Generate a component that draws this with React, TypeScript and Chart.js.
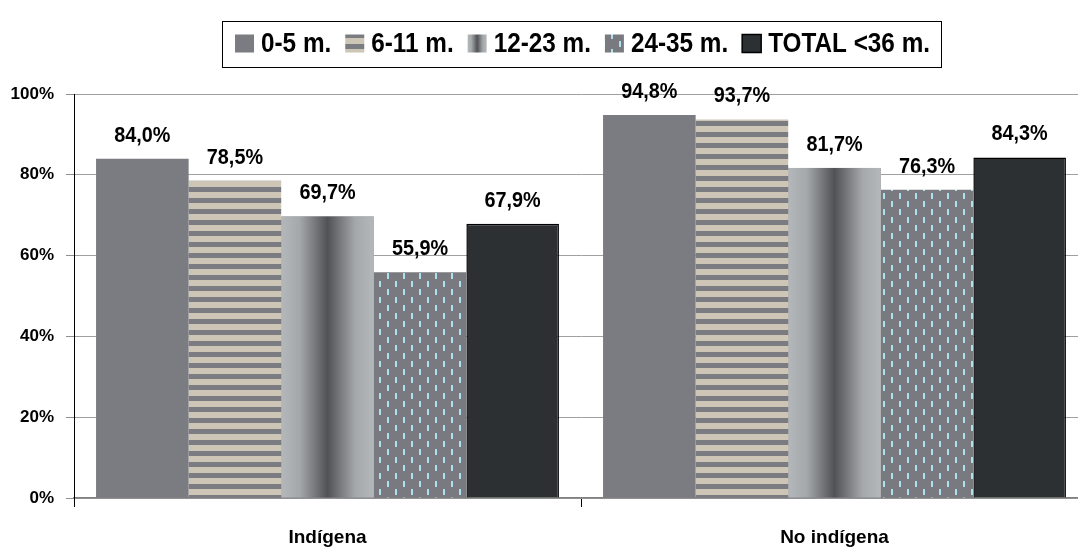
import React, { useEffect, useRef } from "react";
import { Chart, registerables } from "chart.js";

Chart.register(...registerables);

const categories = ["Indígena", "No indígena"];
const seriesLabels = ["0-5 m.", "6-11 m.", "12-23 m.", "24-35 m.", "TOTAL <36 m."];
const s0_5 = [84.0, 94.8];
const s6_11 = [78.5, 93.7];
const s12_23 = [69.7, 81.7];
const s24_35 = [55.9, 76.3];
const sTotal = [67.9, 84.3];
const yTicks = [0, 20, 40, 60, 80, 100];

const FONT = "'Liberation Sans', Arial, sans-serif";
const GRAY = "#7b7c81";
const CANVAS_W = 1100;
const CANVAS_H = 549;
const SX = 0.9;

function makeStripePattern(ctx: CanvasRenderingContext2D) {
  const c = document.createElement("canvas");
  c.width = 8;
  c.height = 11;
  const g = c.getContext("2d")!;
  g.fillStyle = GRAY;
  g.fillRect(0, 0, 8, 11);
  g.fillStyle = "#cdc6b6";
  g.fillRect(0, 5, 8, 6);
  return ctx.createPattern(c, "repeat")!;
}

function makeDashPattern(ctx: CanvasRenderingContext2D) {
  const c = document.createElement("canvas");
  c.width = 16;
  c.height = 16;
  const g = c.getContext("2d")!;
  g.fillStyle = "#797a7f";
  g.fillRect(0, 0, 16, 16);
  g.fillStyle = "#ade0ec";
  g.fillRect(3, 1, 2, 6);
  g.fillRect(11, 9, 2, 6);
  return ctx.createPattern(c, "repeat")!;
}

function makeGradient(ctx: CanvasRenderingContext2D, left: number, right: number) {
  const gr = ctx.createLinearGradient(left, 0, right, 0);
  gr.addColorStop(0, "#b5b8bb");
  gr.addColorStop(0.2, "#a5a8ab");
  gr.addColorStop(0.5, "#505256");
  gr.addColorStop(0.8, "#a5a8ab");
  gr.addColorStop(1, "#b5b8bb");
  return gr;
}

function narrowText(c: CanvasRenderingContext2D, t: string, x: number, y: number) {
  c.save();
  c.translate(x, y);
  c.scale(SX, 1);
  c.fillText(t, 0, 0);
  c.restore();
}

export default function App() {
  const ref = useRef<HTMLCanvasElement>(null);

  useEffect(() => {
    document.body.style.margin = "0";
    const canvas = ref.current!;
    const ctx = canvas.getContext("2d")!;
    const stripe = makeStripePattern(ctx);
    const dash = makeDashPattern(ctx);

    const gradientPlugin = {
      id: "gradientBars",
      afterDatasetDraw(chart: any, args: any) {
        if (args.index !== 2) return;
        const c = chart.ctx;
        c.save();
        args.meta.data.forEach((el: any) => {
          const { x, y, base, width } = el.getProps(["x", "y", "base", "width"], true);
          const l = x - width / 2;
          c.fillStyle = makeGradient(c, l, l + width);
          c.fillRect(l, y, width, base - y);
        });
        c.restore();
      },
    };

    const labelPlugin = {
      id: "valueLabels",
      afterDatasetsDraw(chart: any) {
        const c = chart.ctx;
        c.save();
        c.font = `bold 22px ${FONT}`;
        c.fillStyle = "#000";
        c.textAlign = "center";
        c.textBaseline = "alphabetic";
        chart.data.datasets.forEach((ds: any, i: number) => {
          const meta = chart.getDatasetMeta(i);
          meta.data.forEach((el: any, j: number) => {
            const v = ds.data[j] as number;
            const t = v.toFixed(1).replace(".", ",") + "%";
            narrowText(c, t, el.x, el.y - 17);
          });
        });
        c.restore();
      },
    };

    const legendPlugin = {
      id: "boxLegend",
      afterDraw(chart: any) {
        const c = chart.ctx;
        const fills = [GRAY, stripe, null, dash, "#2d3033"];
        c.save();
        c.font = `bold 27px ${FONT}`;
        c.textBaseline = "middle";
        c.textAlign = "left";
        const sw = 19, sh = 18, gapT = 7, gapI = 14, padL = 13, padR = 11;
        const widths = seriesLabels.map((s) => c.measureText(s).width * SX);
        let total = 0;
        widths.forEach((w, i) => {
          total += sw + gapT + w + (i < widths.length - 1 ? gapI : 0);
        });
        const cx = 581.5;
        const boxL = cx - (total + padL + padR) / 2;
        const boxR = boxL + total + padL + padR;
        const top = 21, bottom = 67;
        c.fillStyle = "#fff";
        c.fillRect(boxL, top, boxR - boxL, bottom - top);
        c.strokeStyle = "#000";
        c.lineWidth = 1;
        c.strokeRect(Math.round(boxL) + 0.5, top + 0.5, Math.round(boxR - boxL), bottom - top);
        let x = boxL + padL;
        const my = 43.5;
        seriesLabels.forEach((s, i) => {
          const sx = x, sy = my - sh / 2;
          c.fillStyle = fills[i] ?? makeGradient(c, sx, sx + sw);
          c.fillRect(sx, sy, sw, sh);
          if (i === 4) {
            c.strokeStyle = "#000";
            c.lineWidth = 1.5;
            c.strokeRect(sx, sy, sw, sh);
          }
          c.fillStyle = "#000";
          narrowText(c, s, sx + sw + gapT, my + 1);
          x += sw + gapT + widths[i] + gapI;
        });
        c.restore();
      },
    };

    const chart = new Chart(canvas, {
      type: "bar",
      data: {
        labels: categories,
        datasets: [
          { label: seriesLabels[0], data: s0_5, backgroundColor: GRAY },
          { label: seriesLabels[1], data: s6_11, backgroundColor: stripe },
          { label: seriesLabels[2], data: s12_23, backgroundColor: "#8a8c90" },
          { label: seriesLabels[3], data: s24_35, backgroundColor: dash },
          { label: seriesLabels[4], data: sTotal, backgroundColor: "#2d3033", borderColor: "#000", borderWidth: 1.5 },
        ],
      },
      options: {
        responsive: false,
        animation: false,
        devicePixelRatio: 1,
        categoryPercentage: 0.913,
        barPercentage: 1,
        layout: { padding: { top: 94, left: 0, right: CANVAS_W - 1088, bottom: 0 } },
        plugins: { legend: { display: false }, tooltip: { enabled: false } },
        scales: {
          x: {
            grid: { display: true, drawOnChartArea: false, drawTicks: true, tickLength: 9, tickColor: "#000", offset: true },
            border: { color: "#808080", width: 1.5 },
            ticks: { color: "#000", font: { family: FONT, size: 19, weight: "bold" }, padding: 19 },
            afterFit: (s: any) => { s.height = CANVAS_H - 498; },
          },
          y: {
            min: 0,
            max: 100,
            afterBuildTicks: (s: any) => { s.ticks = yTicks.map((v) => ({ value: v })); },
            grid: { color: "#a0a0a0", tickLength: 8, tickColor: "#909090" },
            border: { color: "#000", width: 1 },
            ticks: {
              color: "#000",
              padding: 12,
              font: { family: FONT, size: 17, weight: "bold" },
              callback: (v: any) => v + "%",
            },
            afterFit: (s: any) => { s.width = 74; },
          },
        },
      },
      plugins: [gradientPlugin, labelPlugin, legendPlugin],
    });
    return () => chart.destroy();
  }, []);

  return (
    <div style={{ width: 1078, height: CANVAS_H, overflow: "hidden" }}>
      <canvas ref={ref} width={CANVAS_W} height={CANVAS_H} style={{ width: CANVAS_W, height: CANVAS_H, display: "block" }} />
    </div>
  );
}
